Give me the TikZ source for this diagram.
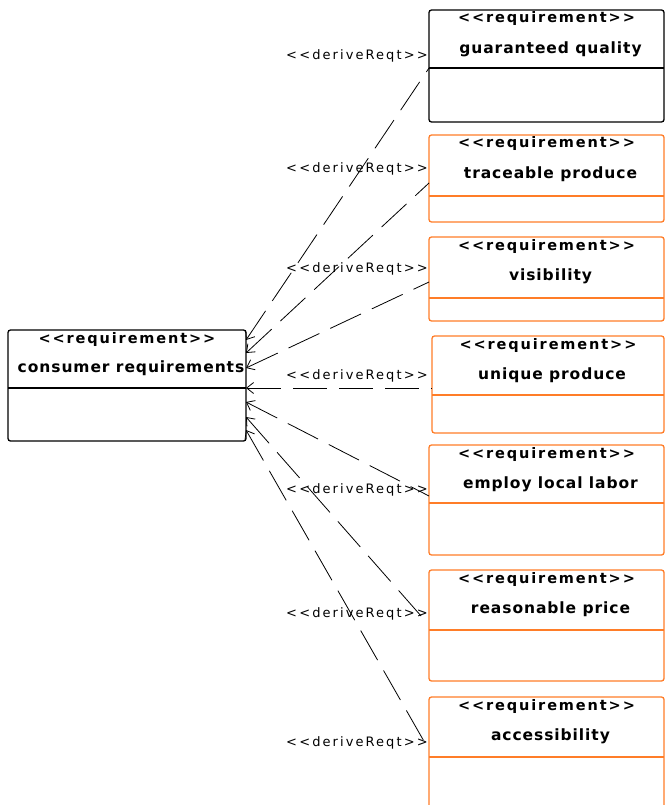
\documentclass[tikz,border=0pt]{standalone}
\usepackage{fontspec}
\usetikzlibrary{arrows.meta,calc}
\newfontfamily\reqfont[LetterSpace=6]{DejaVu Sans}
\newfontfamily\stfont[LetterSpace=13]{DejaVu Sans}
\newfontfamily\lblfont[LetterSpace=16]{DejaVu Sans}
\definecolor{reqorange}{RGB}{255,125,40}
\begin{document}
\begin{tikzpicture}[x=1pt,y=1pt,
  reqbox/.style={draw=#1,line width=1.3pt,rounded corners=2.5pt,anchor=north west,
    minimum width=235pt,inner sep=0pt,outer sep=0pt},
  reqbox/.default=black,
  divider/.style={line width=1.1pt},
  stereo/.style={font=\stfont\bfseries\fontsize{14.5}{16}\selectfont,inner sep=0pt},
  rname/.style={font=\reqfont\bfseries\fontsize{15.5}{17}\selectfont,inner sep=0pt},
  lbl/.style={font=\lblfont\fontsize{13}{15}\selectfont,inner sep=0pt,anchor=east},
  dep/.style={line width=0.8pt,dash pattern=on 34pt off 12pt,
    {Straight Barb[length=7pt,width=11pt]}-}]
\useasboundingbox (0,0) rectangle (665,-805);
\clip (0,0) rectangle (665,-805);

% consumer requirement block
\node[reqbox,minimum width=238pt,minimum height=111pt] (cr) at (8,-330) {};
\draw[divider] ([yshift=-58pt]cr.north west) -- ([yshift=-58pt]cr.north east);
\node[stereo] at ([yshift=-9pt]cr.north) {<{}<requirement>{}>};
\node[rname] at ([yshift=-38pt,xshift=4pt]cr.north) {consumer requirements};

% derived requirement blocks: name, colour, left x, top y, height, divider, text
\foreach \n/\c/\x/\y/\h/\d/\t in {
  b1/black/429/10/112/58/guaranteed quality,
  b2/reqorange/429/135/87/61/traceable produce,
  b3/reqorange/429/237/84/61/visibility,
  b4/reqorange/432/336/97/59/unique produce,
  b5/reqorange/429/445/110/58/employ local labor,
  b6/reqorange/429/570/111/60/reasonable price,
  b7/reqorange/429/697/130/60/accessibility}{
  \node[reqbox=\c,minimum height=\h pt,minimum width={664-\x}] (\n) at (\x,-\y) {};
  \draw[\c,divider] ([yshift=-\d pt]\n.north west) -- ([yshift=-\d pt]\n.north east);
  \node[stereo] at ([yshift=-9pt]\n.north) {<{}<requirement>{}>};
  \node[rname] at ([yshift=-39pt,xshift=4pt]\n.north) {\t};
}

% deriveReqt dependencies, drawn from the arrow end
\foreach \n/\s/\e/\ly in {
  b1/58/10/56,
  b2/48/23/169,
  b3/45/38/269,
  b4/52/58/376,
  b5/51/72/490,
  b6/55/87/614,
  b7/53/100/743}{
  \draw[dep] ([yshift=-\e pt]cr.north east) -- ([yshift=-\s pt]\n.north west);
  \node[lbl] at (428,-\ly) {<\,<deriveReqt\,>\,>};
}
\end{tikzpicture}
\end{document}
